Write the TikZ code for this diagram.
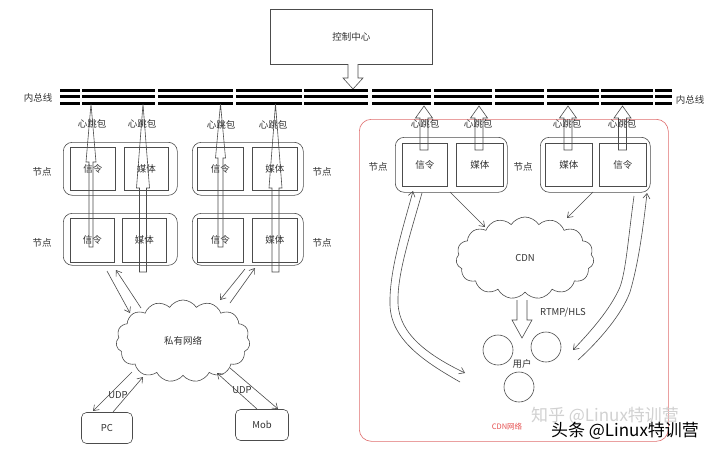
\documentclass[tikz,border=0pt]{standalone}
\usepackage{fontspec}
\setmainfont{Noto Sans CJK SC}
\usetikzlibrary{arrows.meta,shapes.symbols}
\newcommand\blockup[6]{\draw[ln] (#1,#2) -- (#1+#4,#3) -- (#1+#5,#3) -- (#1+#5,#6) -- (#1-#5,#6) -- (#1-#5,#3) -- (#1-#4,#3) -- cycle;}
\begin{document}
\begin{tikzpicture}[x=1pt,y=-1pt,line width=0.6pt,
  ln/.style={draw=black!70,line width=0.6pt},
  grp/.style={draw=black!70,rounded corners=9pt,anchor=north west,inner sep=0pt},
  inbox/.style={draw=black!70,anchor=north west,inner sep=0pt,font=\fontsize{9.5}{10}\selectfont,text=black!80},
  lbl/.style={font=\fontsize{9.5}{10}\selectfont,text=black!80,inner sep=0pt},
  busln/.style={line width=3pt,black},
  arr/.style={draw=black!70,line width=0.6pt,-{Straight Barb[length=5pt,width=7pt]}},
  cloudnode/.style={cloud,draw=black!70,cloud puffs=15,cloud puff arc=115,aspect=1.7,inner sep=0pt,font=\fontsize{9.5}{10}\selectfont,text=black!80},
  usr/.style={circle,draw=black!70,minimum size=30pt,inner sep=0pt},
  term/.style={draw=black!70,rounded corners=5pt,inner sep=0pt,minimum width=51pt,minimum height=31pt,font=\fontsize{9.5}{10}\selectfont,text=black!80}
]
\useasboundingbox[fill=white] (0,0) rectangle (720,451);

% control center
\node[draw=black!70,anchor=north west,minimum width=162pt,minimum height=55pt,inner sep=0pt,font=\fontsize{9.5}{10}\selectfont,text=black!80] (ctrl) at (270,9) {控制中心};
\draw[ln,fill=white] (348,64) -- (348,78) -- (343,78) -- (353,89) -- (363,78) -- (358,78) -- (358,64);

% bus
\foreach \yy in {90,96.5,103}{
  \foreach \a/\b in {60/80,82/155,158/233,236/302,304/368,372/431,434/492,495/544,547/599,601/653,655/672}{
    \draw[busln] (\a,\yy) -- (\b,\yy);
  }
}
\node[lbl] (busL) at (38,98) {内总线};
\node[lbl] (busR) at (690,100) {内总线};

% CDN frame
\node[draw={rgb,255:red,224;green,110;blue,110},rounded corners=12pt,anchor=north west,minimum width=309pt,minimum height=322pt,inner sep=0pt] (frame) at (359,119) {};
\node[font=\fontsize{7.5}{8}\selectfont,text={rgb,255:red,230;green,80;blue,80},inner sep=0pt] (frameLbl) at (507,427) {CDN网络};

% left node groups
\node[grp,minimum width=114pt,minimum height=53pt] (g1) at (63,142) {};
\node[inbox,minimum width=45pt,minimum height=43pt] (g1s) at (70,147) {信令};
\node[inbox,minimum width=44pt,minimum height=43pt] (g1m) at (124,147) {媒体};
\node[grp,minimum width=114pt,minimum height=52pt] (g2) at (63,213) {};
\node[inbox,minimum width=44pt,minimum height=44pt] (g2s) at (70,218) {信令};
\node[inbox,minimum width=44pt,minimum height=44pt] (g2m) at (122,218) {媒体};
\node[grp,minimum width=111pt,minimum height=53pt] (g3) at (192,142) {};
\node[inbox,minimum width=46pt,minimum height=43pt] (g3s) at (197,147) {信令};
\node[inbox,minimum width=45pt,minimum height=43pt] (g3m) at (252,147) {媒体};
\node[grp,minimum width=111pt,minimum height=52pt] (g4) at (192,213) {};
\node[inbox,minimum width=46pt,minimum height=44pt] (g4s) at (197,218) {信令};
\node[inbox,minimum width=45pt,minimum height=44pt] (g4m) at (252,218) {媒体};
\node[lbl] (n1) at (42,172) {节点};
\node[lbl] (n2) at (42,243) {节点};
\node[lbl] (n3) at (322,172) {节点};
\node[lbl] (n4) at (322,243) {节点};

% left heartbeat arrows
\blockup{91}{104}{162}{5}{2}{247}
\blockup{143}{104}{188}{6.5}{3.5}{272}
\blockup{220.5}{104}{158}{5}{2.5}{247}
\blockup{275.5}{104}{188}{6.5}{3.5}{272}
\node[lbl] (h1) at (92,124) {心跳包};
\node[lbl] (h2) at (142,124) {心跳包};
\node[lbl] (h3) at (221,125) {心跳包};
\node[lbl] (h4) at (273,125) {心跳包};

% right node groups
\node[grp,minimum width=112pt,minimum height=55pt] (g5) at (395,137) {};
\node[inbox,minimum width=45pt,minimum height=43pt] (g5s) at (402,143) {信令};
\node[inbox,minimum width=47pt,minimum height=43pt] (g5m) at (456,143) {媒体};
\node[grp,minimum width=110pt,minimum height=55pt] (g6) at (540,137) {};
\node[inbox,minimum width=47pt,minimum height=43pt] (g6m) at (545,143) {媒体};
\node[inbox,minimum width=47pt,minimum height=43pt] (g6s) at (599,143) {信令};
\node[lbl] (n5) at (378,167) {节点};
\node[lbl] (n6) at (523,167) {节点};

\blockup{424}{106}{118}{8.5}{4}{150}
\blockup{479}{106}{118}{8.5}{4}{150}
\blockup{568}{106}{118}{8.5}{4}{150}
\blockup{622.5}{106}{118}{8.5}{4}{150}
\node[lbl] (h5) at (425,124) {心跳包};
\node[lbl] (h6) at (478,124) {心跳包};
\node[lbl] (h7) at (567,124) {心跳包};
\node[lbl] (h8) at (622,124) {心跳包};

% CDN cloud
\node[cloudnode,minimum width=138pt,minimum height=82pt] (cdn) at (525,258) {CDN};
\draw[arr] (450,192) -- (485,227);
\draw[arr] (593,192) -- (567,218);

% RTMP arrow
\draw[ln,fill=white] (517,300) -- (517,320) -- (512,320) -- (522,338) -- (532,320) -- (527,320) -- (527,300);
\node[lbl] (rtmp) at (563,313) {RTMP/HLS};

% users
\node[usr] (u1) at (498,350) {};
\node[usr] (u2) at (546,347) {};
\node[usr] (u3) at (519,387) {};
\node[lbl] (ulbl) at (522,364) {用户};

% curved signaling arrows
\draw[arr] (460,382) .. controls (425,362) and (391,340) .. (390,305) .. controls (389,270) and (404,225) .. (413,191);
\draw[arr] (422,193) .. controls (410,235) and (397,275) .. (398,303) .. controls (399,335) and (430,356) .. (465,373);
\draw[arr] (634,196) .. controls (628,240) and (626,270) .. (620,287) .. controls (610,310) and (590,332) .. (573,350);
\draw[arr] (578,360) .. controls (600,340) and (622,314) .. (630,292) .. controls (638,265) and (643,230) .. (647,193);

% private network
\node[cloudnode,minimum width=134pt,minimum height=82pt] (net) at (183,341) {私有网络};
\draw[arr] (107,271) -- (130,313);
\draw[arr] (141,308) -- (116,270);
\draw[arr] (245,269) -- (220,300);
\draw[arr] (230,303) -- (255,268);

% terminals
\node[term] (pc) at (107,428) {PC};
\node[term,minimum width=53pt] (mob) at (262,425) {Mob};
\draw[arr] (132,372) -- (93,411);
\draw[arr] (113,412) -- (143,377);
\node[lbl] (udp1) at (118,395) {UDP};
\draw[arr] (230,368) -- (278,409);
\draw[arr] (257,409) -- (217,373);
\node[lbl] (udp2) at (242,390) {UDP};

% watermarks
\node[font=\fontsize{17}{18}\selectfont,text=black!18,inner sep=0pt] (wm1) at (605,416) {知乎 @Linux特训营};
\node[font=\fontsize{17}{18}\selectfont,text=black,inner sep=0pt] (wm2) at (625,431) {头条 @Linux特训营};
\end{tikzpicture}
\end{document}
